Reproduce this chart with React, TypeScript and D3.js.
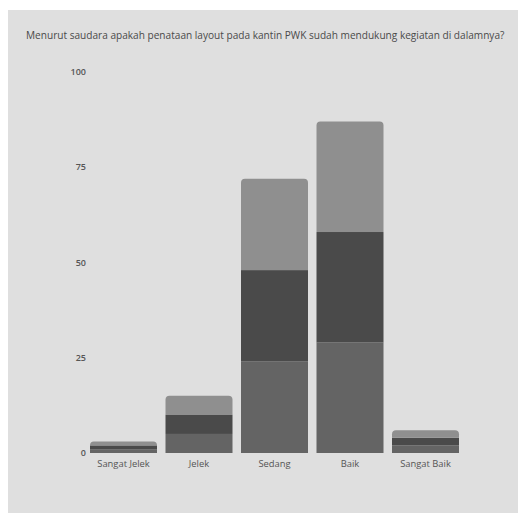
import React, { useEffect } from "react";
import * as d3 from "d3";

const title =
  "Menurut saudara apakah penataan layout pada kantin PWK sudah mendukung kegiatan di dalamnya?";
const categories = ["Sangat Jelek", "Jelek", "Sedang", "Baik", "Sangat Baik"];
const seriesA = [1, 5, 24, 29, 2];
const seriesB = [1, 5, 24, 29, 2];
const seriesC = [1, 5, 24, 29, 2];
const seriesColors = ["#646464", "#4a4a4a", "#8f8f8f"];
const yTicks = [0, 25, 50, 75, 100];

const W = 518;
const H = 513;
const PANEL = "#dfdfdf";

function roundedTop(x: number, y: number, w: number, h: number, r: number) {
  const rr = Math.min(r, h, w / 2);
  return `M${x},${y + h}V${y + rr}Q${x},${y} ${x + rr},${y}H${x + w - rr}Q${x + w},${y} ${x + w},${y + rr}V${y + h}Z`;
}

export default function App() {
  useEffect(() => {
    document.documentElement.style.background = PANEL;
    document.body.style.background = PANEL;
    document.body.style.margin = "0";
    document.body.style.overflow = "hidden";
  }, []);

  const x = d3
    .scaleBand<string>()
    .domain(categories)
    .range([85.75, 463.25])
    .paddingInner(0.1126)
    .paddingOuter(0.0563);
  const y = d3.scaleLinear().domain([0, 100]).range([453, 72]);

  const table = categories.map((c, i) => ({
    cat: c,
    a: seriesA[i],
    b: seriesB[i],
    c: seriesC[i],
  }));
  const stacked = d3.stack<any>().keys(["a", "b", "c"])(table);
  const font = "'Open Sans', sans-serif";

  return (
    <svg
      width={W}
      height={H}
      style={{ position: "absolute", left: 0, top: 0, display: "block" }}
    >
      <rect x={0} y={0} width={W} height={H} fill="#ffffff" />
      <rect x={8} y={10} width={W - 8} height={H - 10} fill={PANEL} />
      <text x={26} y={38.5} fontFamily={font} fontSize={10.1} fill="#4a4a4a">
        {title}
      </text>
      {yTicks.map((t) => (
        <text
          key={t}
          x={86}
          y={y(t)}
          dy="0.35em"
          textAnchor="end"
          fontFamily={font}
          fontSize={9}
          fontWeight={600}
          fill="#555"
        >
          {t}
        </text>
      ))}
      {stacked.map((layer, li) =>
        layer.map((d: any, i: number) => {
          const bx = x(categories[i]) as number;
          const bw = x.bandwidth();
          const y0 = y(d[0]);
          const y1 = y(d[1]);
          const isTop = li === stacked.length - 1;
          return isTop ? (
            <path
              key={`${li}-${i}`}
              d={roundedTop(bx, y1, bw, y0 - y1, 4)}
              fill={seriesColors[li]}
            />
          ) : (
            <rect
              key={`${li}-${i}`}
              x={bx}
              y={y1}
              width={bw}
              height={y0 - y1}
              fill={seriesColors[li]}
            />
          );
        })
      )}
      {categories.map((c) => (
        <text
          key={c}
          x={(x(c) as number) + x.bandwidth() / 2}
          y={463.5}
          dy="0.35em"
          textAnchor="middle"
          fontFamily={font}
          fontSize={9.4}
          fill="#555"
        >
          {c}
        </text>
      ))}
    </svg>
  );
}
